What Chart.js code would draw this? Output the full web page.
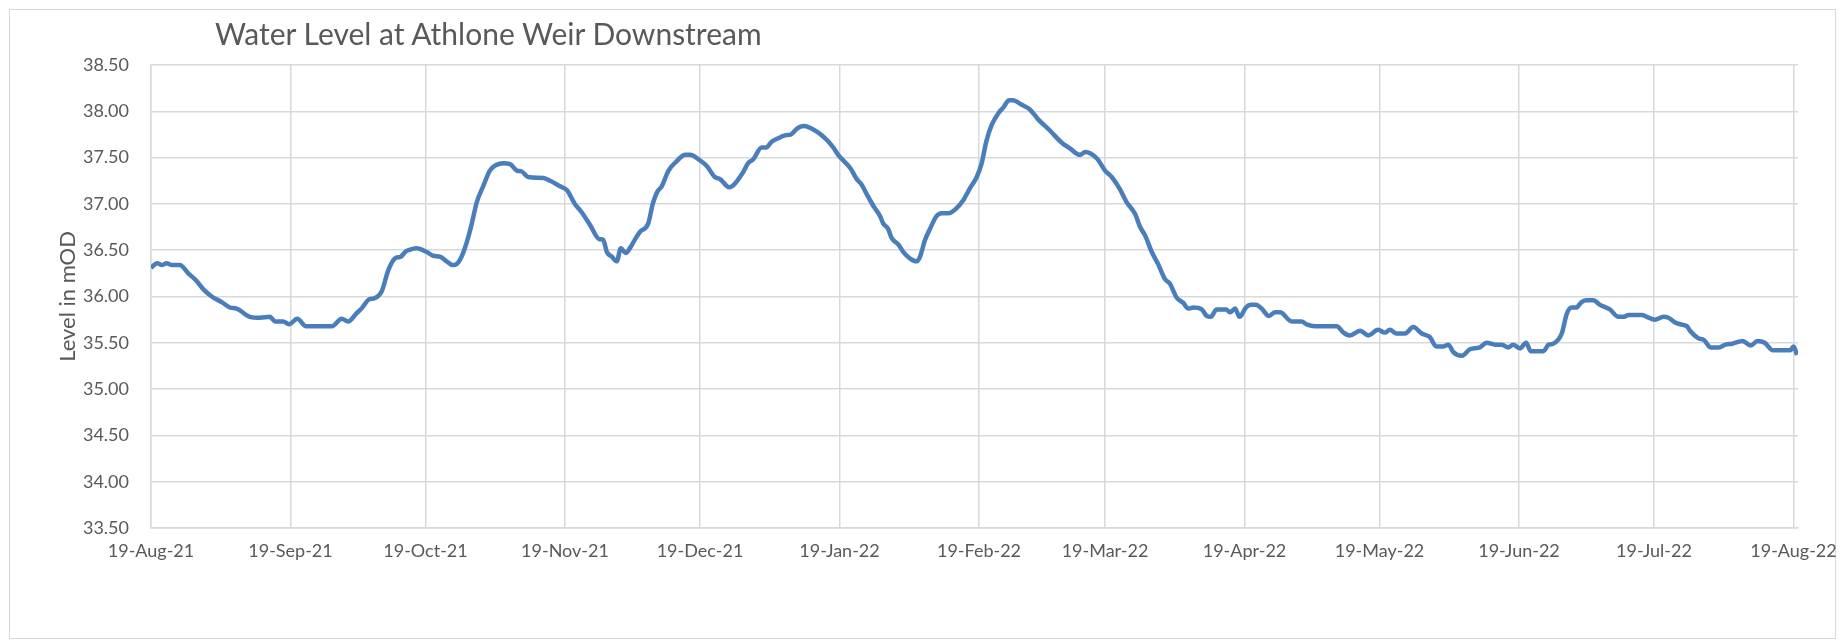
<!DOCTYPE html>
<html>
<head>
<meta charset="utf-8">
<script src="https://cdn.jsdelivr.net/npm/chart.js@4"></script>
<style>
  html,body{margin:0;padding:0;background:#fff;}
  #wrap{position:relative;width:1844px;height:642px;overflow:hidden;}
  #frame{position:absolute;left:9px;top:9px;width:1825px;height:628px;border:1px solid #d9d9d9;}
  #title{position:absolute;left:215px;top:15px;font-family:Lato,'Open Sans',sans-serif;font-size:30px;color:#595959;white-space:nowrap;}
  canvas{position:absolute;left:0;top:0;}
</style>
</head>
<body>
<div id="wrap">
  <div id="frame"></div>
  <canvas id="chartLevel" width="1844" height="642"></canvas>
  <div id="title">Water Level at Athlone Weir Downstream</div>
</div>
<script>
// days since 19-Aug-21 and water level (mOD)
const days=[0,1.4,2.4,3.5,4.6,6.4,8.3,10.1,11.6,13.5,15.7,17.6,19,22,24.2,26.4,27.6,29.4,30.7,32.5,34.4,40.2,42.4,43.8,45.7,46.8,48.5,49.6,51.3,52.7,54.2,55.5,56.7,57.2,59,61.3,62.7,64.2,65.7,67,67.9,69,70.2,71.3,72.4,73.9,75.3,76.7,78.3,79.8,81.3,82.4,83.8,87.2,88.7,90.9,92.4,94.2,95.7,97.6,99.6,100.5,101.3,102.4,103.5,104.4,105.5,106.4,107.6,108.7,110.5,111.5,112.5,113.5,115,116.8,118.7,119.8,122,123.5,125.3,126.4,128.5,131.3,132.7,133.8,135.7,136.7,137.9,139.4,140.9,142.2,143.5,145,146.1,148.3,150.2,151.6,152.7,155.5,156.8,157.9,159,160.5,162,162.7,163.8,164.6,166.1,167.2,168.7,170.2,170.9,172,173.1,174.6,175.7,177.2,178.7,180.5,182,183.5,184.6,185.6,186.8,188.3,189.4,190.7,191.5,193.5,195.3,197.2,199.8,202.4,204.2,206.4,207.6,210.2,212,213.5,215.3,216.8,218.7,219.8,220.9,222.4,223.8,225.3,226.4,227.9,229.4,230.5,231.6,233.5,234.6,235.5,236.8,238.9,239.8,240.9,241.9,243.3,244.4,245.5,246.8,248.4,249.8,250.9,253.5,255.7,256.8,258.7,263.5,265,266.4,268.7,270.5,272.7,274.2,275.3,276.8,278.7,280.5,282.4,284.2,285.6,287.2,288.3,289.4,291.3,293.1,295.3,296.8,298.7,300.2,301.6,302.7,304.2,305.6,306.6,309.4,310.6,311.6,313.5,314.6,315.7,316.7,317.9,319,320.5,322,324.2,326.1,327.2,328.3,331.3,332.4,334.2,336.1,337.2,338.7,339.8,341.3,342,343.8,345.1,346.6,348.4,349.9,351.4,353.7,355.5,357,358.6,360.4,362.6,364.3,365,365.8];
const levels=[36.31,36.36,36.34,36.36,36.34,36.34,36.25,36.17,36.08,36.00,35.94,35.88,35.87,35.78,35.77,35.78,35.73,35.73,35.70,35.76,35.68,35.68,35.76,35.73,35.82,35.87,35.97,35.98,36.06,36.28,36.41,36.43,36.49,36.50,36.52,36.48,36.44,36.43,36.38,36.34,36.35,36.43,36.59,36.79,37.02,37.20,37.36,37.42,37.44,37.43,37.36,37.35,37.29,37.28,37.25,37.19,37.15,37.00,36.91,36.77,36.62,36.61,36.48,36.43,36.38,36.52,36.47,36.52,36.62,36.70,36.79,37.00,37.13,37.19,37.36,37.46,37.53,37.53,37.47,37.41,37.29,37.27,37.18,37.32,37.44,37.48,37.61,37.61,37.67,37.71,37.74,37.75,37.81,37.84,37.83,37.77,37.69,37.61,37.53,37.38,37.27,37.21,37.11,36.98,36.87,36.79,36.73,36.63,36.56,36.48,36.41,36.38,36.43,36.61,36.73,36.87,36.90,36.90,36.94,37.04,37.17,37.29,37.44,37.67,37.85,37.98,38.04,38.12,38.12,38.07,38.02,37.91,37.79,37.66,37.60,37.53,37.56,37.49,37.36,37.29,37.16,37.02,36.89,36.75,36.66,36.48,36.35,36.19,36.14,35.99,35.93,35.87,35.88,35.86,35.79,35.78,35.86,35.86,35.83,35.87,35.78,35.88,35.91,35.91,35.87,35.79,35.83,35.83,35.73,35.73,35.70,35.68,35.68,35.61,35.58,35.63,35.58,35.64,35.61,35.64,35.60,35.60,35.67,35.60,35.56,35.46,35.46,35.48,35.40,35.36,35.43,35.45,35.50,35.48,35.48,35.45,35.48,35.44,35.50,35.41,35.41,35.48,35.49,35.60,35.81,35.88,35.88,35.94,35.96,35.96,35.91,35.86,35.78,35.78,35.80,35.80,35.78,35.75,35.78,35.77,35.72,35.70,35.68,35.63,35.55,35.53,35.45,35.45,35.48,35.49,35.52,35.47,35.52,35.50,35.42,35.42,35.42,35.46,35.37];

// x axis: monthly ticks (days since 19-Aug-21)
const tickDays=[0,31,61,92,122,153,184,212,243,273,304,334,365];
const tickLabels=['19-Aug-21','19-Sep-21','19-Oct-21','19-Nov-21','19-Dec-21','19-Jan-22','19-Feb-22','19-Mar-22','19-Apr-22','19-May-22','19-Jun-22','19-Jul-22','19-Aug-22'];

Chart.defaults.font.family="Lato,'Open Sans',sans-serif";
Chart.defaults.color='#595959';

new Chart(document.getElementById('chartLevel'),{
  type:'line',
  data:{
    datasets:[{
      label:'Level',
      data:days.map((d,i)=>({x:d,y:levels[i]})),
      borderColor:'#4a7ebb',
      borderWidth:4.5,
      pointRadius:0,
      cubicInterpolationMode:'monotone',
      fill:false
    }]
  },
  options:{
    responsive:false,
    animation:false,
    layout:{padding:{top:65,right:46,bottom:0,left:0}},
    plugins:{legend:{display:false},tooltip:{enabled:false},title:{display:false}},
    scales:{
      x:{
        type:'linear',min:0,max:366,
        afterBuildTicks:s=>{s.ticks=tickDays.map(v=>({value:v}));},
        afterFit:s=>{s.height=114;s.paddingLeft=0;s.paddingRight=0;},
        grid:{color:'#d9d9d9',lineWidth:1.5,drawTicks:false},
        border:{color:'#d9d9d9',width:1.5},
        ticks:{autoSkip:false,maxRotation:0,padding:12,font:{size:18},color:'#595959',
          callback:v=>tickLabels[tickDays.indexOf(v)]}
      },
      y:{
        min:33.5,max:38.5,
        afterFit:s=>{s.width=151;s.paddingTop=0;s.paddingBottom=0;},
        grid:{color:'#d9d9d9',lineWidth:1.5,drawTicks:false},
        border:{color:'#d9d9d9',width:1.5},
        ticks:{stepSize:0.5,padding:22,font:{size:18},color:'#595959',callback:v=>v.toFixed(2)},
        title:{display:true,text:'Level in mOD',font:{size:22},color:'#595959',padding:{top:55,bottom:0}}
      }
    }
  }
});
</script>
</body>
</html>
